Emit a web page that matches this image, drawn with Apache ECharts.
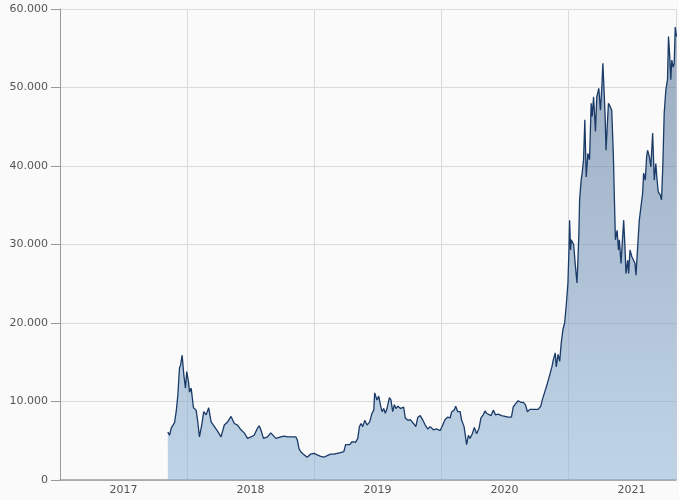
<!DOCTYPE html>
<html>
<head>
<meta charset="utf-8">
<script src="https://cdn.jsdelivr.net/npm/echarts@6/dist/echarts.min.js"></script>
<style>
html,body{margin:0;padding:0;background:#fafafa;overflow:hidden;}
#chart{width:679px;height:500px;}
</style>
</head>
<body>
<div id="chart"></div>
<script>
// Time as decimal years
const dates = [
2017.849,2017.863,2017.876,2017.902,2017.915,2017.928,2017.941,2017.949,2017.962,2017.975,
2017.988,2017.998,2018.012,2018.020,2018.033,2018.051,2018.072,2018.085,2018.098,2018.116,
2018.132,2018.151,2018.171,2018.190,2018.216,2018.242,2018.268,2018.294,2018.320,2018.347,
2018.373,2018.398,2018.425,2018.451,2018.477,2018.504,2018.529,2018.555,2018.569,2018.582,
2018.602,2018.634,2018.660,2018.673,2018.700,2018.739,2018.765,2018.791,2018.817,2018.857,
2018.869,2018.882,2018.896,2018.922,2018.947,2018.974,2019.000,2019.026,2019.053,2019.078,
2019.104,2019.131,2019.157,2019.183,2019.209,2019.235,2019.249,2019.261,2019.282,2019.300,
2019.327,2019.345,2019.358,2019.371,2019.384,2019.400,2019.418,2019.439,2019.457,2019.471,
2019.478,2019.496,2019.510,2019.523,2019.536,2019.549,2019.562,2019.575,2019.594,2019.606,
2019.620,2019.633,2019.645,2019.661,2019.682,2019.706,2019.719,2019.740,2019.758,2019.784,
2019.802,2019.818,2019.837,2019.855,2019.876,2019.896,2019.915,2019.941,2019.967,2019.994,
2020.014,2020.033,2020.053,2020.072,2020.085,2020.104,2020.116,2020.132,2020.151,2020.163,
2020.182,2020.190,2020.202,2020.216,2020.229,2020.247,2020.263,2020.281,2020.300,2020.315,
2020.333,2020.347,2020.359,2020.373,2020.394,2020.412,2020.430,2020.451,2020.477,2020.504,
2020.529,2020.555,2020.569,2020.587,2020.608,2020.629,2020.647,2020.665,2020.681,2020.700,
2020.712,2020.739,2020.765,2020.786,2020.798,2020.817,2020.838,2020.857,2020.875,2020.886,
2020.900,2020.908,2020.922,2020.935,2020.947,2020.961,2020.974,2020.987,2021.000,2021.008,
2021.013,2021.021,2021.026,2021.045,2021.057,2021.071,2021.078,2021.086,2021.092,2021.104,
2021.112,2021.123,2021.133,2021.144,2021.157,2021.170,2021.183,2021.191,2021.202,2021.217,
2021.227,2021.243,2021.256,2021.267,2021.275,2021.282,2021.293,2021.300,2021.308,2021.319,
2021.332,2021.345,2021.358,2021.366,2021.374,2021.387,2021.398,2021.405,2021.418,2021.426,
2021.439,2021.449,2021.457,2021.471,2021.478,2021.489,2021.502,2021.515,2021.528,2021.536,
2021.549,2021.562,2021.575,2021.588,2021.596,2021.609,2021.620,2021.627,2021.641,2021.653,
2021.667,2021.680,2021.692,2021.700,2021.711,2021.727,2021.737,2021.747,2021.758,2021.771,
2021.784,2021.792,2021.802,2021.810,2021.818,2021.829,2021.837,2021.845,2021.855
];
const prices = [
6100,5700,6600,7300,8700,10800,14300,14600,15900,13400,
11700,13800,12500,11200,11700,9200,8900,7400,5500,7000,
8700,8300,9200,7400,6800,6200,5500,7000,7400,8100,
7200,7000,6400,6000,5300,5500,5700,6600,6900,6400,
5300,5500,6000,5900,5300,5500,5600,5500,5500,5500,
5100,4000,3600,3200,2900,3300,3400,3200,3000,2900,
3100,3300,3300,3400,3500,3600,4500,4700,4500,4900,
4800,5300,6800,7200,6800,7600,7000,7400,8500,8900,
11100,10200,10700,9600,8700,9100,8500,9100,10500,10200,
8700,9600,9100,9400,9100,9300,7900,7600,7700,7200,
6800,8000,8200,7700,7000,6500,6800,6400,6500,6300,
7000,7700,8000,7900,8700,8900,9400,8700,8700,7600,
6800,5900,4500,5700,5300,5900,6700,5900,6600,7900,
8300,8800,8500,8700,8200,8900,8300,8400,8200,8100,
8000,8000,9300,9700,10100,9900,9900,9600,8700,9000,
8900,9000,9000,9400,10200,11200,12300,13400,14500,15400,
16200,14400,16000,15100,17400,19200,20000,22300,25100,29300,
33100,29300,30600,30000,27600,25100,27600,31400,35700,38200,
39100,40800,45900,38600,41600,40800,48000,46300,48800,44400,
48800,49900,47100,50100,53100,50600,46300,42000,44600,48000,
47600,47100,41200,35700,30600,31800,29300,30600,27600,27400,
33100,29700,26300,28000,26300,29300,28500,28500,27600,26100,
29700,33100,34800,36500,39100,38200,41200,42000,41200,39900,
44200,38200,40300,38600,36700,36300,35700,39900,46700,49700,
51000,56500,53900,51000,53500,52600,53100,57700,56500
];
const xMin = 2017, xMax = 2021.851;
const yMin = 0, yMax = 60000, yStep = 10000;

const fontFamily = 'DejaVu Sans, Verdana, sans-serif';
const chart = echarts.init(document.getElementById('chart'), null, {renderer: 'canvas', width: 679, height: 500});
const fmtNum = v => String(Math.round(v)).replace(/\B(?=(\d{3})+(?!\d))/g, '.');

chart.setOption({
  backgroundColor: '#fafafa',
  animation: false,
  grid: {left: 60, right: 0, top: 9, bottom: 20, containLabel: false},
  xAxis: [
    {
      type: 'value', min: xMin, max: xMax, interval: 0.5, position: 'bottom',
      axisLine: {show: true, lineStyle: {color: '#9a9a9a', width: 1.5}},
      axisTick: {show: false},
      splitLine: {show: false},
      axisLabel: {
        color: '#555', fontSize: 11, fontFamily: fontFamily, margin: 5,
        formatter: v => (Math.abs(v - Math.floor(v) - 0.5) < 1e-6) ? String(Math.floor(v)) : ''
      }
    },
    {
      type: 'value', min: xMin, max: xMax, interval: 1, position: 'bottom',
      axisLine: {show: false}, axisTick: {show: false}, axisLabel: {show: false},
      splitLine: {show: true, lineStyle: {color: '#dadada', width: 1}}
    }
  ],
  yAxis: {
    type: 'value', min: yMin, max: yMax, interval: yStep,
    axisLine: {show: true, lineStyle: {color: '#9a9a9a', width: 1}},
    axisTick: {show: true, length: 9, lineStyle: {color: '#9a9a9a'}},
    splitLine: {show: true, lineStyle: {color: '#dadada', width: 1}},
    axisLabel: {color: '#555', fontSize: 11, fontFamily: fontFamily, margin: 12, formatter: fmtNum}
  },
  series: [{
    type: 'line',
    xAxisIndex: 0,
    data: dates.map((d, i) => [d, prices[i]]),
    showSymbol: false,
    symbol: 'none',
    sampling: null,
    clip: true,
    lineStyle: {color: '#1a3a68', width: 1.3},
    areaStyle: {
      color: new echarts.graphic.LinearGradient(0, 0, 0, 1, [
        {offset: 0, color: 'rgba(78,108,145,0.78)'},
        {offset: 1, color: 'rgba(140,178,214,0.76)'}
      ])
    },
    z: 2
  }]
});
</script>
</body>
</html>
